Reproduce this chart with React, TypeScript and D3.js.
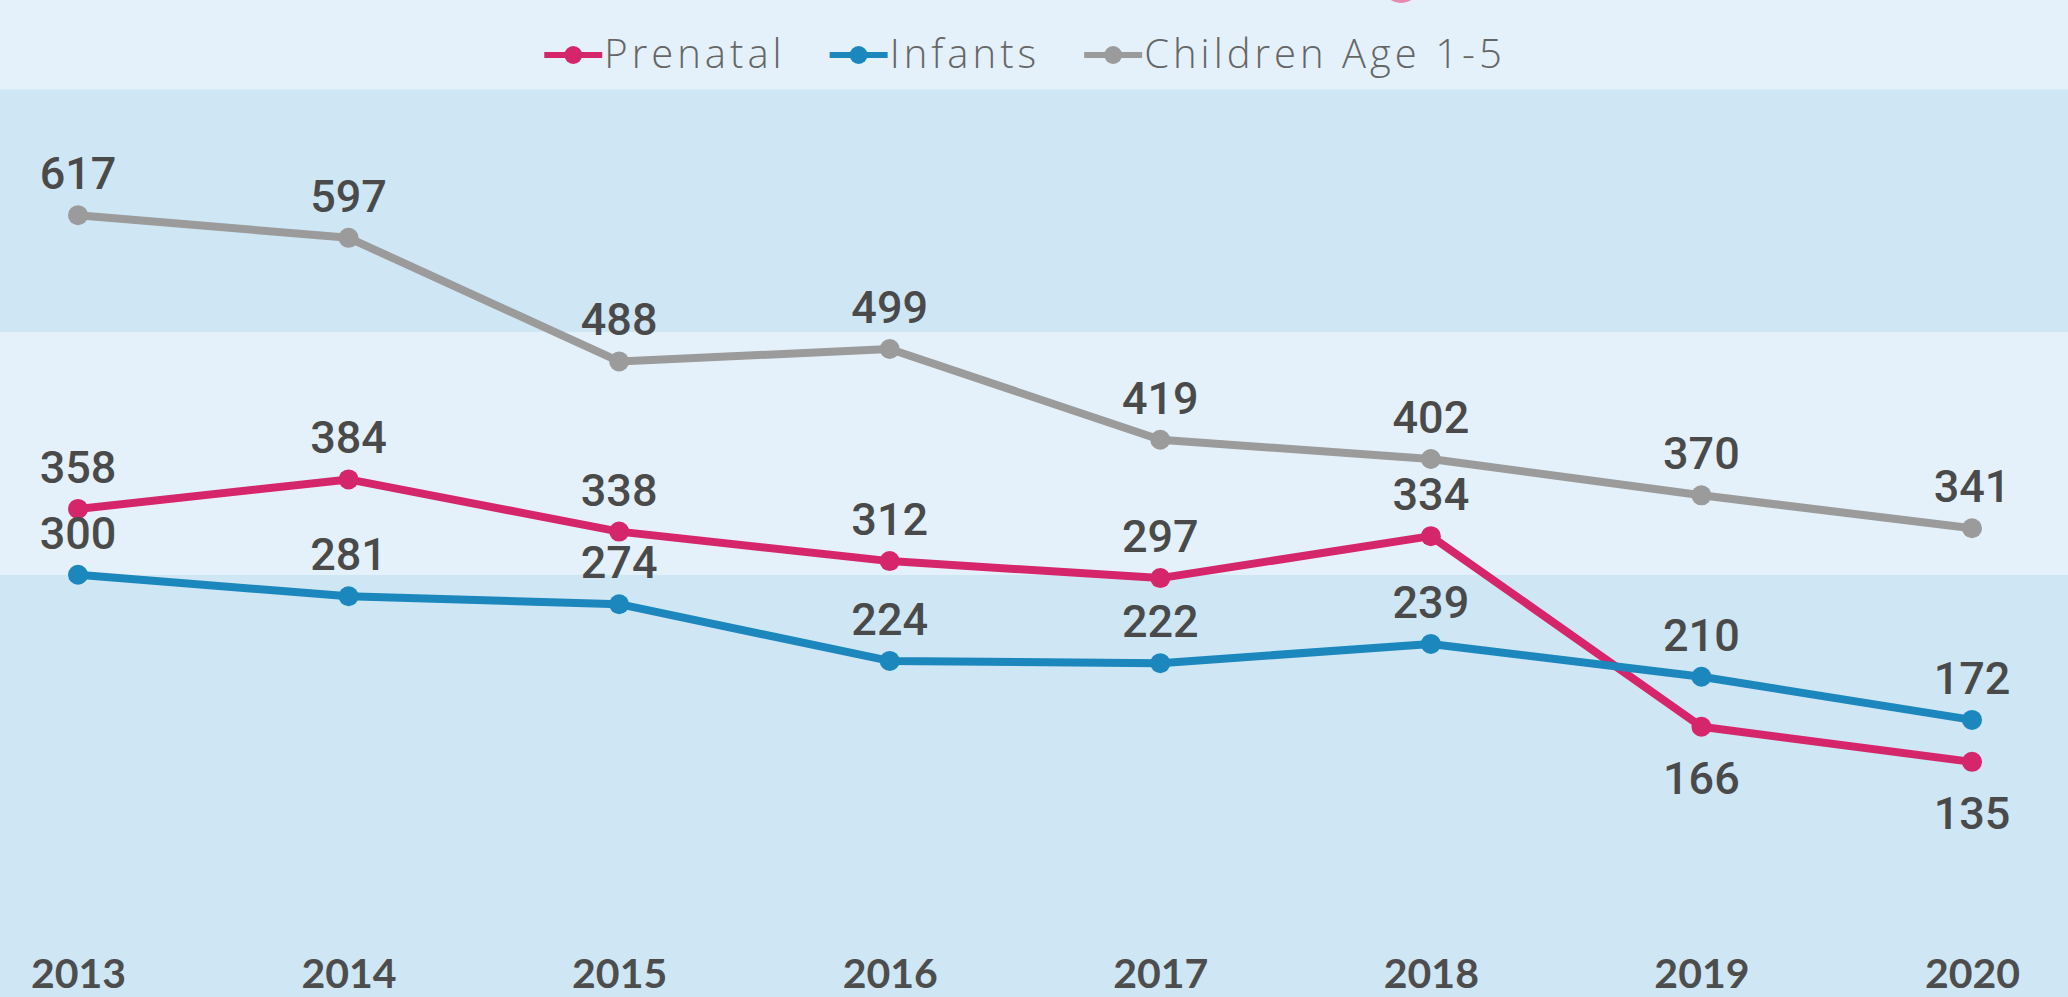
import React, { useEffect, useRef } from 'react';
import * as d3 from 'd3';

// data
const years = ['2013', '2014', '2015', '2016', '2017', '2018', '2019', '2020'];
const prenatal = [358, 384, 338, 312, 297, 334, 166, 135];
const infants = [300, 281, 274, 224, 222, 239, 210, 172];
const children = [617, 597, 488, 499, 419, 402, 370, 341];
const seriesNames = ['Prenatal', 'Infants', 'Children Age 1-5'];
const seriesColors = ['#d6266b', '#1b87bd', '#9b9b9b'];
// value labels drawn under the point instead of above
const labelsBelow = ['Prenatal-2019', 'Prenatal-2020'];
// background stripes, in data units
const bandEdges = [728, 514, 300];

const W = 2068;
const H = 997;

const App = () => {
  const ref = useRef<SVGSVGElement | null>(null);

  useEffect(() => {
    document.body.style.margin = '0';
    const svg = d3.select(ref.current);
    svg.selectAll('*').remove();

    const x = d3.scalePoint<string>().domain(years).range([78, 1972]);
    const y = d3.scaleLinear().domain([0, 700]).range([915, 121]);

    // stripes
    const edges = [0, ...bandEdges.map(v => y(v)), H];
    const bandColors = ['#e4f1fa', '#cfe6f4', '#e4f1fa', '#cfe6f4'];
    svg.selectAll('.band')
      .data(d3.range(edges.length - 1))
      .enter()
      .append('rect')
      .attr('x', 0)
      .attr('y', i => edges[i])
      .attr('width', W)
      .attr('height', i => edges[i + 1] - edges[i])
      .attr('fill', i => bandColors[i]);

    // bit of the title decoration peeking in at the top
    svg.append('circle')
      .attr('cx', 1401).attr('cy', -16).attr('r', 19)
      .attr('fill', '#e58aae');

    const series = [prenatal, infants, children].map((vals, k) => ({
      name: seriesNames[k],
      color: seriesColors[k],
      points: vals.map((v, i) => ({ year: years[i], value: v })),
    }));

    const line = d3.line<{ year: string; value: number }>()
      .x(d => x(d.year)!)
      .y(d => y(d.value));

    // draw gray first so colored lines sit on top
    const order = [series[2], series[0], series[1]];
    order.forEach(s => {
      svg.append('path')
        .datum(s.points)
        .attr('d', line)
        .attr('fill', 'none')
        .attr('stroke', s.color)
        .attr('stroke-width', 8)
        .attr('stroke-linejoin', 'round');
      svg.selectAll(null)
        .data(s.points)
        .enter()
        .append('circle')
        .attr('cx', d => x(d.year)!)
        .attr('cy', d => y(d.value))
        .attr('r', 10)
        .attr('fill', s.color);
    });

    series.forEach(s => {
      svg.selectAll(null)
        .data(s.points)
        .enter()
        .append('text')
        .attr('x', d => x(d.year)!)
        .attr('y', d => y(d.value) + (labelsBelow.includes(`${s.name}-${d.year}`) ? 67 : -26))
        .attr('text-anchor', 'middle')
        .attr('font-family', 'Roboto, sans-serif')
        .attr('font-weight', 500)
        .attr('font-size', 45)
        .attr('fill', '#4a4a4a')
        .text(d => d.value);
    });

    // x axis
    const xAxis = svg.append('g')
      .attr('transform', 'translate(0,988)')
      .call(d3.axisBottom(x).tickSize(0));
    xAxis.select('.domain').remove();
    xAxis.selectAll('text')
      .attr('y', 0)
      .attr('dy', null)
      .attr('font-family', 'Lato, sans-serif')
      .attr('font-weight', 700)
      .attr('font-size', 41)
      .attr('fill', '#4d4d4d');

    // legend, centred over the plot
    const legend = svg.append('g');
    let cursor = 0;
    series.forEach((s, k) => {
      const item = legend.append('g').attr('transform', `translate(${cursor},0)`);
      item.append('line')
        .attr('x1', 0).attr('x2', 58).attr('y1', 55).attr('y2', 55)
        .attr('stroke', s.color).attr('stroke-width', 6);
      item.append('circle')
        .attr('cx', 29).attr('cy', 55).attr('r', 9)
        .attr('fill', s.color);
      const t = item.append('text')
        .attr('x', 60)
        .attr('y', 68)
        .attr('font-family', '"Open Sans", sans-serif')
        .attr('font-weight', 300)
        .attr('font-size', 40)
        .attr('letter-spacing', 4)
        .attr('fill', '#666666')
        .text(s.name);
      const w = (t.node() as SVGTextElement).getComputedTextLength();
      cursor += 60 + w + (k < series.length - 1 ? 44 : 0);
    });
    const mid = (x.range()[0] + x.range()[1]) / 2;
    legend.attr('transform', `translate(${mid - cursor / 2},0)`);
  }, []);

  return (
    <svg ref={ref} width={W} height={H} style={{ display: 'block' }} />
  );
};

export default App;
